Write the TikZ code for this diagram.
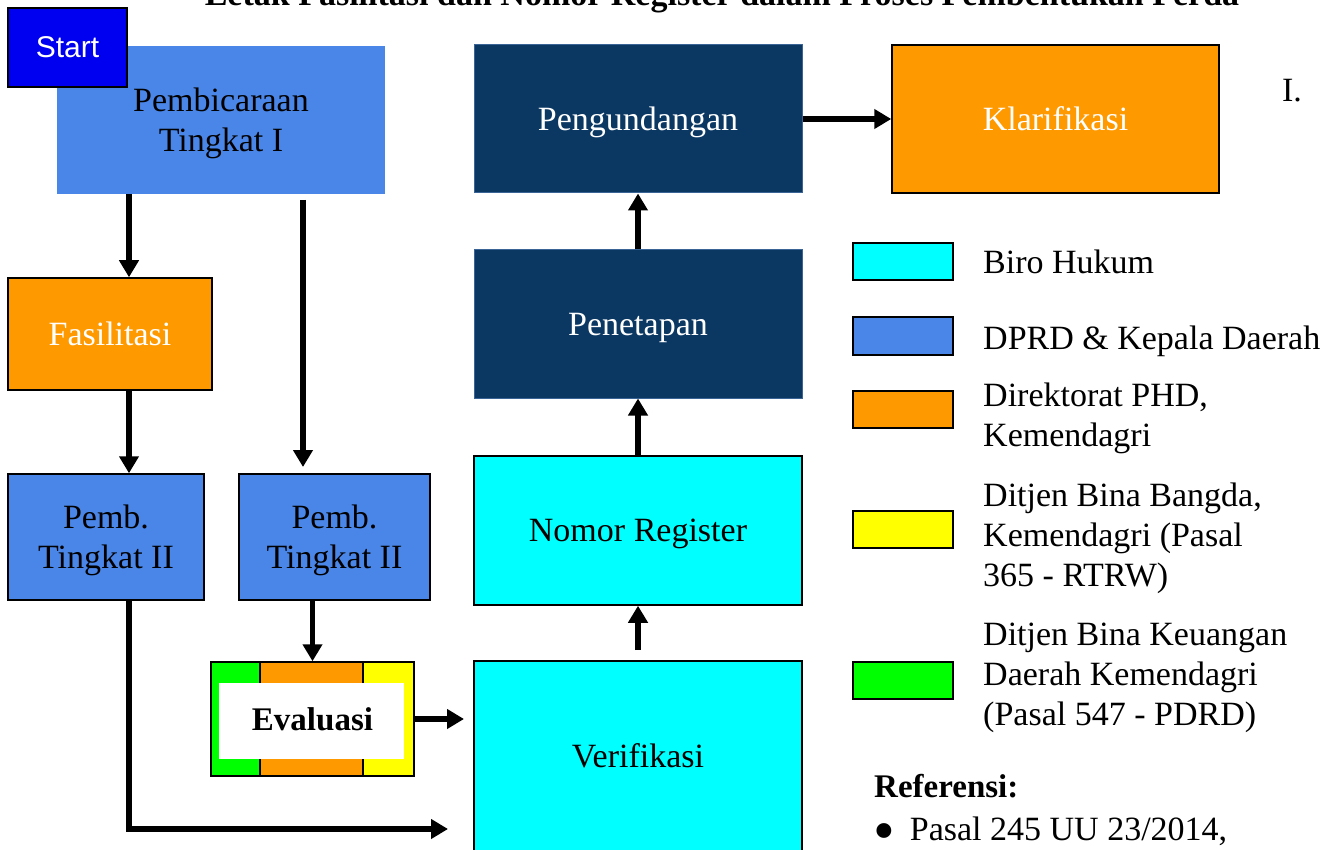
\documentclass[tikz,border=0pt]{standalone}
\usepackage{fontspec}
\setmainfont{Liberation Serif}
\newfontfamily\arialf{Liberation Sans}
\usetikzlibrary{arrows.meta,calc}
\definecolor{pblue}{HTML}{4A86E8}
\definecolor{navy}{HTML}{0B3862}
\definecolor{navyedge}{HTML}{3A6496}
\definecolor{orng}{HTML}{FF9900}
\definecolor{cyanb}{HTML}{00FFFF}
\definecolor{yell}{HTML}{FFFF00}
\definecolor{grn}{HTML}{00FF00}
\definecolor{startblue}{HTML}{0000F0}
\begin{document}
\begin{tikzpicture}[x=1pt,y=-1pt,
  font=\fontsize{34}{40}\selectfont,
  box/.style={rectangle, inner sep=0pt, align=center, line width=1.5pt, text depth=0pt},
  arr/.style={line width=5.5pt, -{Triangle[length=17pt,width=19pt]}},
  legbox/.style={rectangle, draw=black, line width=2pt, minimum width=100pt, minimum height=37pt, inner sep=0pt},
  legtxt/.style={anchor=base west, align=left, inner sep=0pt}]
\useasboundingbox (0,0) rectangle (1336,850);
\clip (0,0) rectangle (1336,850);

% title (cut off at top)
\node[anchor=base, inner sep=0pt, font=\fontsize{34}{40}\selectfont\bfseries] (title) at (722,6)
  {Letak Fasilitasi dan Nomor Register dalam Proses Pembentukan Perda};

% main boxes
\node[box, fill=pblue, minimum width=328pt, minimum height=148pt] (pem) at (221,120) {Pembicaraan\\Tingkat I};
\node[box, fill=startblue, draw=black, line width=2pt, minimum width=119pt, minimum height=79pt,
  font=\arialf\fontsize{30}{36}\selectfont, text=white] (start) at (67.5,47.5) {Start};

\node[box, fill=navy, draw=navyedge, line width=1pt, text=white, minimum width=328pt, minimum height=148pt] (peng) at (638,119) {Pengundangan};
\node[box, fill=orng, draw=black, text=white, minimum width=327pt, minimum height=148pt] (klar) at (1055.5,119) {Klarifikasi};
\node[box, fill=navy, draw=navyedge, line width=1pt, text=white, minimum width=328pt, minimum height=148pt] (pet) at (638,324) {Penetapan};
\node[box, fill=cyanb, draw=black, minimum width=328pt, minimum height=149pt] (nr) at (638,530.5) {Nomor Register};
\node[box, fill=cyanb, draw=black, minimum width=328pt, minimum height=190pt] (ver) at (638,756) {Verifikasi};

\node[box, fill=orng, draw=black, text=white, minimum width=204pt, minimum height=112pt] (fas) at (110,334) {Fasilitasi};
\node[box, fill=pblue, draw=black, minimum width=196pt, minimum height=126pt] (ptl) at (106,537) {Pemb.\\Tingkat II};
\node[box, fill=pblue, draw=black, minimum width=191pt, minimum height=126pt] (ptr) at (334.5,537) {Pemb.\\Tingkat II};

% evaluasi composite
\filldraw[fill=grn, draw=black, line width=1.5pt] (211,662) rectangle (260,776);
\filldraw[fill=orng, draw=black, line width=1.5pt] (260,662) rectangle (363,776);
\filldraw[fill=yell, draw=black, line width=1.5pt] (363,662) rectangle (414,776);
\fill[white] (219,683) rectangle (404,759);
\node[box, draw=black, minimum width=203pt, minimum height=114pt, font=\fontsize{33}{40}\selectfont\bfseries] (eval) at (312.5,719) {Evaluasi};

% connectors
\coordinate (c1) at (129,194);
\draw[arr] (c1) -- (c1 |- fas.north);
\coordinate (c2) at (129,390);
\draw[arr] (c2) -- (c2 |- ptl.north);
\coordinate (c3) at (303,200);
\coordinate (c3e) at (303,467);
\draw[arr] (c3) -- (c3e);
\draw[arr] (ptr.south -| eval.north) -- (eval.north);
\coordinate (c4) at (129,600);
\coordinate (c4m) at (129,829);
\coordinate (c4e) at (448,829);
\draw[arr] (c4) -- (c4m) -- (c4e);
\coordinate (c5) at (464,719);
\draw[arr] (eval.east) -- (c5);
\coordinate (c6) at (638,650);
\draw[arr] (c6) -- (nr.south);
\draw[arr] (nr.north) -- (pet.south);
\draw[arr] (pet.north) -- (peng.south);
\draw[arr] (peng.east) -- (klar.west);

\node[anchor=base, inner sep=0pt] (roman) at (1292,102) {I.};

% legend
\node[legbox, fill=cyanb] (lg1) at (903,262) {};
\node[legbox, fill=pblue] (lg2) at (903,336) {};
\node[legbox, fill=orng] (lg3) at (903,409) {};
\node[legbox, fill=yell] (lg4) at (903,529.5) {};
\node[legbox, fill=grn] (lg5) at (903,680.5) {};
\node[legtxt] (lt1) at (983,274) {Biro Hukum};
\node[legtxt] (lt2) at (983,349) {DPRD \& Kepala Daerah};
\node[legtxt] (lt3) at (983,446) {Direktorat PHD,\\Kemendagri};
\node[legtxt] (lt4) at (983,586) {Ditjen Bina Bangda,\\Kemendagri (Pasal\\365 - RTRW)};
\node[legtxt] (lt5) at (983,725) {Ditjen Bina Keuangan\\Daerah Kemendagri\\(Pasal 547 - PDRD)};

\node[anchor=base west, inner sep=0pt, font=\fontsize{33}{40}\selectfont\bfseries] (ref) at (874,797) {Referensi:};
\node[anchor=base west, inner sep=0pt] (item) at (873,840) {\raisebox{-11pt}{\fontsize{62}{40}\selectfont\textbullet}\hspace{15pt}Pasal 245 UU 23/2014,};
\end{tikzpicture}
\end{document}
